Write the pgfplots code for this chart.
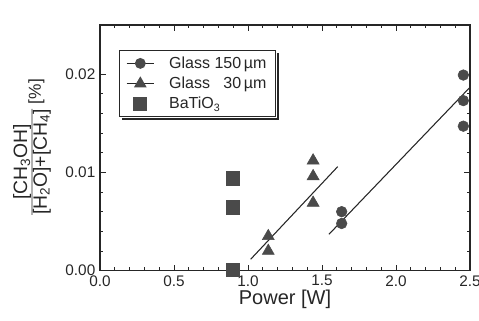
\documentclass[border=0pt]{standalone}
\usepackage{fontspec}
\setmainfont{Liberation Sans}
\usepackage{pgfplots}
\pgfplotsset{compat=1.18}
\definecolor{mk}{HTML}{4A4A4A}
\definecolor{ln}{HTML}{262626}
\begin{document}
\begin{tikzpicture}
\begin{axis}[
  scale only axis,
  width=277.5pt, height=184.3pt,
  xmin=0, xmax=2.5, ymin=0, ymax=0.025,
  xtick={0,0.5,1,1.5,2,2.5},
  ytick={0,0.01,0.02},
  minor x tick num=4,
  minor y tick num=4,
  tick align=inside,
  major tick length=4.5pt,
  minor tick length=2.5pt,
  axis line style={ln, line width=0.9pt},
  every tick/.style={ln, line width=0.7pt},
  scaled y ticks=false,
  /pgf/number format/assume math mode=true,
  xticklabel style={/pgf/number format/.cd, fixed, fixed zerofill, precision=1},
  yticklabel style={/pgf/number format/.cd, fixed, fixed zerofill, precision=2},
  tick label style={font=\fontsize{11.5}{13}\selectfont, text=ln},
  xlabel={Power [W]},
  xlabel style={font=\fontsize{15}{17}\selectfont, text=ln, yshift=4pt},
  legend style={name=lg, at={(0.051,0.898)}, anchor=north west, draw=ln, line width=0.9pt, fill=white,
    font=\fontsize{12}{13.5}\selectfont, text=ln, row sep=1pt, inner xsep=5pt, inner ysep=2.5pt},
  legend cell align=left,
]
\addlegendimage{legend image code/.code={\draw[ln, line width=0.8pt] (0cm,0cm) -- (0.72cm,0cm);
   \path[mark=*, mark size=3.6pt, mark options={fill=mk, draw=mk}] plot coordinates {(0.36cm,0cm)};}}
\addlegendentry{\hspace{9pt}Glass 150\,µm}
\addlegendimage{legend image code/.code={\draw[ln, line width=0.8pt] (0cm,0cm) -- (0.72cm,0cm);
   \path[mark=triangle*, mark size=4.6pt, mark options={fill=mk, draw=mk}] plot coordinates {(0.36cm,0cm)};}}
\addlegendentry{\hspace{9pt}Glass \phantom{1}30\,µm}
\addlegendimage{legend image code/.code={
   \path[mark=square*, mark size=4.8pt, mark options={fill=mk, draw=mk}] plot coordinates {(0.36cm,0cm)};}}
\addlegendentry{\hspace{9pt}BaTiO\textsubscript{3}}

% fit lines
\addplot[ln, line width=0.8pt, forget plot] coordinates {(1.018,0.00116) (1.606,0.01058)};
\addplot[ln, line width=0.8pt, forget plot] coordinates {(1.547,0.0037) (2.5,0.01866)};

% BaTiO3
\addplot[only marks, mark=square*, mark size=5pt, mark options={fill=mk, draw=mk}, forget plot]
  coordinates {(0.897,0.0094) (0.897,0.00645) (0.897,0.0001)};
% Glass 30 um
\addplot[only marks, mark=triangle*, mark size=5.2pt, mark options={fill=mk, draw=mk}, forget plot]
  coordinates {(1.137,0.0035) (1.137,0.0020) (1.44,0.0112) (1.44,0.0096) (1.44,0.0069)};
% Glass 150 um
\addplot[only marks, mark=*, mark size=4pt, mark options={fill=mk, draw=mk}, forget plot]
  coordinates {(1.633,0.0060) (1.633,0.0048) (2.455,0.0199) (2.455,0.0173) (2.455,0.0147)};

\node[anchor=base east, font=\fontsize{11.5}{13}\selectfont, text=ln] at (rel axis cs:1,1) [yshift=5pt, xshift=-1pt]
  {H\textsubscript{2}O: 5\%, CH\textsubscript{4}: 95\%};
\end{axis}
% legend shadow (right and bottom edges)
\draw[ln, line width=1.8pt] ([xshift=1.35pt, yshift=-2.5pt]lg.north east) -- ([xshift=1.35pt, yshift=-1.35pt]lg.south east) -- ([xshift=2.5pt, yshift=-1.35pt]lg.south west);
% y label
\node[rotate=89.99, anchor=center, inner sep=0pt, font=\fontsize{14.5}{17}\selectfont, text=ln] at ([xshift=-51pt]current axis.west)
  {$\frac{\mbox{[CH\textsubscript{3}OH]}}{\mbox{[H\textsubscript{2}O]+[CH\textsubscript{4}]}}$\,\raisebox{-0.4ex}{\fontsize{13}{15}\selectfont[\%]}};
\pgfresetboundingbox
\useasboundingbox (-75pt,-37.7pt) rectangle (284.25pt,203pt);
\end{tikzpicture}
\end{document}
